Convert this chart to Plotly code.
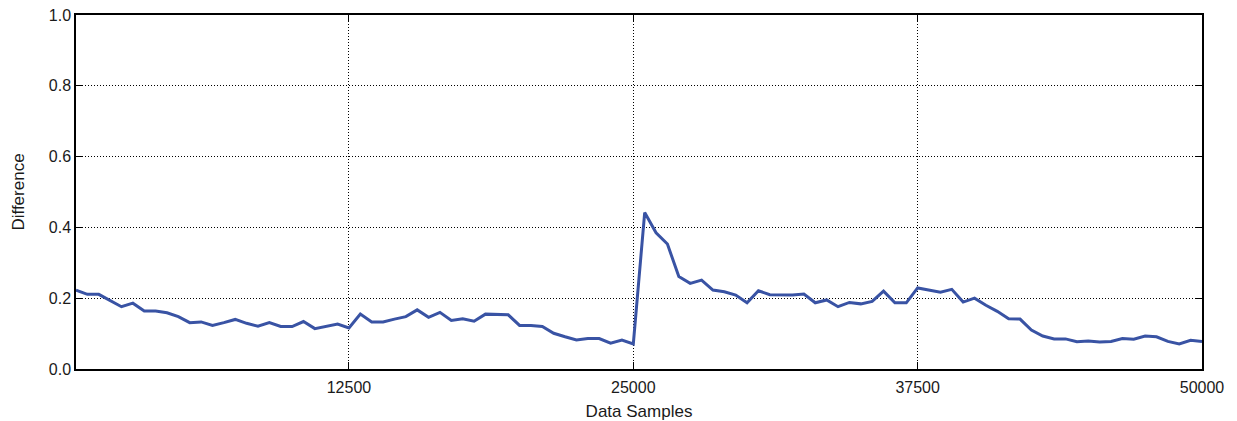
import plotly.graph_objects as go

samples = list(range(500, 50001, 500))
difference = [
    0.223, 0.211, 0.211, 0.193, 0.176, 0.186, 0.164, 0.164, 0.159, 0.148,
    0.131, 0.133, 0.123, 0.131, 0.140, 0.129, 0.121, 0.131, 0.120, 0.120,
    0.134, 0.114, 0.121, 0.127, 0.116,
    0.155, 0.133, 0.133, 0.141, 0.148, 0.167, 0.146, 0.160, 0.137, 0.142,
    0.135, 0.155, 0.153, 0.153, 0.123, 0.123, 0.120, 0.101, 0.091, 0.082,
    0.086, 0.086, 0.073, 0.082, 0.071,
    0.442, 0.385, 0.353, 0.261, 0.242, 0.251, 0.223, 0.218, 0.209, 0.187,
    0.221, 0.210, 0.210, 0.209, 0.212, 0.187, 0.195, 0.176, 0.188, 0.184,
    0.191, 0.220, 0.187, 0.187, 0.229,
    0.223, 0.217, 0.225, 0.189, 0.200, 0.180, 0.163, 0.142, 0.141, 0.110,
    0.093, 0.085, 0.085, 0.077, 0.079, 0.076, 0.078, 0.086, 0.084, 0.093,
    0.091, 0.078, 0.071, 0.081, 0.078,
]
x_ticks = [12500, 25000, 37500, 50000]
y_ticks = [0.0, 0.2, 0.4, 0.6, 0.8, 1.0]

fig = go.Figure()
fig.add_trace(go.Scatter(
    x=samples, y=difference, mode="lines",
    line=dict(color="#3953a4", width=3),
    showlegend=False,
))

tick_font = dict(family="Liberation Sans, Arial, sans-serif", size=16, color="#1a1a1a")
title_font = dict(family="Liberation Sans, Arial, sans-serif", size=17, color="#1a1a1a")
axis_common = dict(
    showline=True, linecolor="black", linewidth=1.5, mirror="ticks",
    ticks="inside", ticklen=7, tickwidth=1.2, tickcolor="black",
    showgrid=True, gridcolor="black", gridwidth=1, griddash="1px,2px",
    zeroline=False, tickfont=tick_font, automargin=False,
)
fig.update_layout(
    width=1237, height=421,
    margin=dict(l=76, r=35, t=15, b=52),
    paper_bgcolor="white", plot_bgcolor="white",
    font=tick_font,
    xaxis=dict(range=[500, 50000], tickvals=x_ticks,
               ticktext=[str(v) for v in x_ticks],
               ticklabelstandoff=3,
               title=dict(text="Data Samples", font=title_font, standoff=14),
               **axis_common),
    yaxis=dict(range=[0, 1], tickvals=y_ticks,
               ticktext=[f"{v:.1f}" for v in y_ticks],
               title=dict(text="Difference", font=title_font, standoff=20),
               **axis_common),
)
fig.write_html("out.html")
